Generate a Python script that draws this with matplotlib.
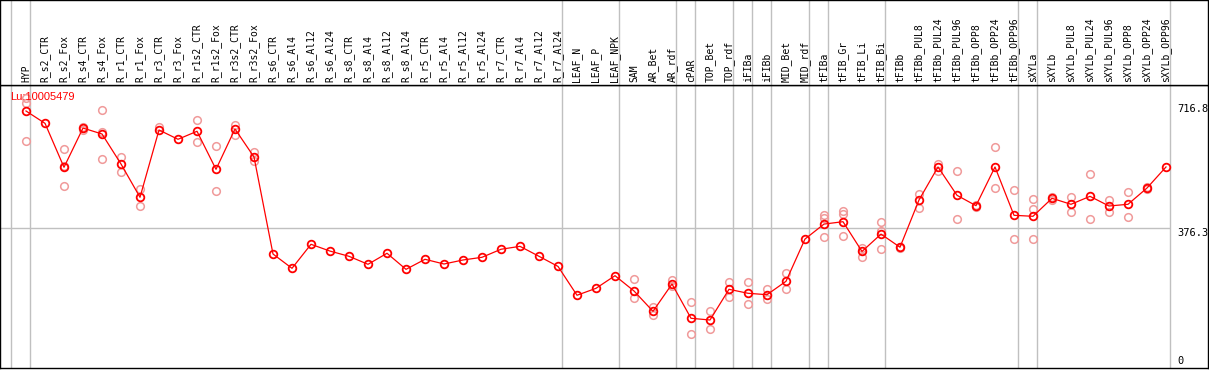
import numpy as np
import matplotlib
matplotlib.use("Agg")
import matplotlib.pyplot as plt
import matplotlib.transforms as mtransforms

# ---- data ----
CATS = ["HYP", "R_s2_CTR", "R_s2_Fox", "R_s4_CTR", "R_s4_Fox", "R_r1_CTR", "R_r1_Fox",
        "R_r3_CTR", "R_r3_Fox", "R_r1s2_CTR", "R_r1s2_Fox", "R_r3s2_CTR", "R_r3s2_Fox",
        "R_s6_CTR", "R_s6_Al4", "R_s6_Al12", "R_s6_Al24", "R_s8_CTR", "R_s8_Al4", "R_s8_Al12",
        "R_s8_Al24", "R_r5_CTR", "R_r5_Al4", "R_r5_Al12", "R_r5_Al24", "R_r7_CTR", "R_r7_Al4",
        "R_r7_Al12", "R_r7_Al24", "LEAF_N", "LEAF_P", "LEAF_NPK", "SAM", "AR_Bet", "AR_rdf",
        "cPAR", "TOP_Bet", "TOP_rdf", "iFIBa", "iFIBb", "MID_Bet", "MID_rdf", "tFIBa",
        "tFIB_Gr", "tFIB_Li", "tFIB_Bi", "tFIBb", "tFIBb_PUL8", "tFIBb_PUL24", "tFIBb_PUL96",
        "tFIBb_OPP8", "tFIBb_OPP24", "tFIBb_OPP96", "sXYLa", "sXYLb", "sXYLb_PUL8",
        "sXYLb_PUL24", "sXYLb_PUL96", "sXYLb_OPP8", "sXYLb_OPP24", "sXYLb_OPP96"]

MEANS = [697.8, 664, 543.6, 651, 634.8, 552.6, 461.4, 645.8, 620.3, 642.2, 538, 648.5, 571.8,
         306, 266.8, 332.6, 314, 299.7, 277.8, 308, 264, 291.5, 278.6, 289.6, 297, 319, 327,
         299.7, 272, 193, 212, 246.6, 204.7, 149, 223.8, 129.9, 125.2, 209.3, 198.4, 194.5,
         231.2, 347, 388, 394.5, 313, 360.5, 324.6, 454, 544.4, 466.8, 438.4, 544.4, 412,
         409.3, 458.6, 442.2, 464, 437.5, 442.2, 486.8, 544.4]

REPS = [[615.6, 719, 733], [], [593, 491.5, 546], [655, 647], [699.7, 565.5, 639],
        [572.6, 531.5], [483, 438], [653], [], [672, 612], [601, 478], [660, 633],
        [585.5, 560], [], [], [], [], [], [], [], [], [], [], [], [], [], [], [], [],
        [], [], [], [236.7, 185.5], [161.6, 139], [234.8, 219], [173.7, 86], [150, 99.7],
        [229.3, 187.4], [229.3, 168.2], [209.3, 181.9], [254, 209.3], [], [413, 406, 352],
        [423, 415.6, 354.5], [321.6, 298.6], [394, 368, 320], [326, 322], [470.4, 433],
        [552.6, 533.4], [533.4, 401.9], [441, 435], [598.4, 486], [480.5, 347],
        [456, 428.5, 347], [461, 455], [462.2, 420], [524.4, 401.9], [454, 420],
        [475.9, 408.2], [490, 483], []]

GROUP_ENDS = [-1, 0, 28, 31, 34, 35, 37, 38, 39, 41, 42, 45, 52, 53, 60]  # separator after these
Y_TICKS = [716.8, 376.3, 0]
TAG = "Lu:10005479"

# ---- layout (pixel based, 1209x370) ----
W, H = 1209, 370
HDR_BOT, PLOT_BOT, RIGHT = 85, 368, 1208
X0, DX = 26, 19                      # first point pixel x, spacing
XL = (-X0 / DX, (RIGHT - X0) / DX)
YL = (-6.3, 769.0)
GRID = "#c0c0c0"
MONO = "DejaVu Sans Mono"

fig = plt.figure(figsize=(W / 100, H / 100), dpi=100)
ax = fig.add_axes([0, (H - PLOT_BOT) / H, RIGHT / W, (PLOT_BOT - HDR_BOT) / H])
hdr = fig.add_axes([0, (H - HDR_BOT) / H, RIGHT / W, HDR_BOT / H - 0.0005])

for a in (ax, hdr):
    a.set_xlim(*XL)
    a.set_xticks([]); a.set_yticks([])
    for s in a.spines.values():
        s.set_linewidth(1.0); s.set_color("black")
    for b in GROUP_ENDS:
        a.axvline(b + 0.22, color=GRID, lw=1.0, zorder=0)
ax.set_ylim(*YL)
hdr.set_ylim(0, 1)

x = np.arange(len(CATS))
# middle reference line, stops at the last separator
ax.hlines(Y_TICKS[1], XL[0], GROUP_ENDS[-1] + 0.22, color=GRID, lw=1.0, zorder=0)

# replicates (light) then means (red line + rings)
for i, reps in enumerate(REPS):
    if reps:
        ax.plot([i] * len(reps), reps, "o", ms=5.5, mfc="none", mec="#f09a9a", mew=1.1, zorder=2)
ax.plot(x, MEANS, "-", color="red", lw=0.9, zorder=3)
ax.plot(x, MEANS, "o", ms=5.5, mfc="none", mec="red", mew=1.3, zorder=4)

# category labels in header
for i, c in enumerate(CATS):
    hdr.text(i, 0.03, c, rotation=90, ha="center", va="bottom",
             family=MONO, fontsize=7, color="black")

# right-hand value labels
tr = mtransforms.blended_transform_factory(ax.transAxes, ax.transData)
for v in Y_TICKS:
    lab = f"{v:g}" if v == 0 else f"{v:.1f}"
    ax.text(1177 / RIGHT, v, lab, transform=tr, ha="left",
            va="bottom" if v == 0 else "top", family=MONO, fontsize=7.5)

ax.text(10 / RIGHT, 1 - 12 / (PLOT_BOT - HDR_BOT), TAG, transform=ax.transAxes,
        ha="left", va="center", color="red", fontsize=8, family="Liberation Sans")

fig.savefig("out.png", dpi=100, facecolor="white")
